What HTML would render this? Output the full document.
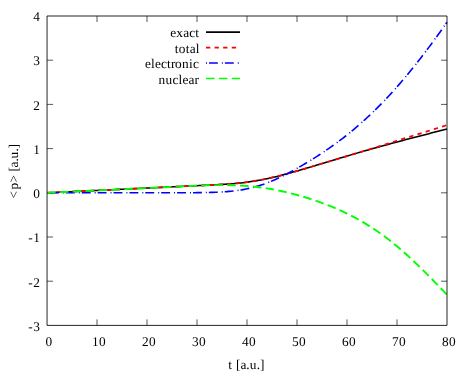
<!DOCTYPE html>
<html><head><meta charset="utf-8"><title>plot</title>
<style>
html,body{margin:0;padding:0;background:#fff;overflow:hidden;}
svg{display:block;will-change:transform;}
text{font-family:"Liberation Serif",serif;font-size:13.33px;fill:#000;text-rendering:geometricPrecision;}
</style></head><body>
<svg width="468" height="375" viewBox="0 0 468 375">
<rect width="468" height="375" fill="#fff"/>
<g fill="none" stroke="#000" stroke-opacity="0.65" stroke-width="1">
<path d="M97.00,325.4 V319.4"/>
<path d="M97.00,16.0 V22.0"/>
<path d="M147.00,325.4 V319.4"/>
<path d="M147.00,16.0 V22.0"/>
<path d="M197.00,325.4 V319.4"/>
<path d="M197.00,16.0 V22.0"/>
<path d="M247.00,325.4 V319.4"/>
<path d="M247.00,16.0 V22.0"/>
<path d="M297.00,325.4 V319.4"/>
<path d="M297.00,16.0 V22.0"/>
<path d="M347.00,325.4 V319.4"/>
<path d="M347.00,16.0 V22.0"/>
<path d="M397.00,325.4 V319.4"/>
<path d="M397.00,16.0 V22.0"/>
<path d="M47.05,281.20 H53.05"/>
<path d="M447.0,281.20 H441.0"/>
<path d="M47.05,237.00 H53.05"/>
<path d="M447.0,237.00 H441.0"/>
<path d="M47.05,192.80 H53.05"/>
<path d="M447.0,192.80 H441.0"/>
<path d="M47.05,148.60 H53.05"/>
<path d="M447.0,148.60 H441.0"/>
<path d="M47.05,104.40 H53.05"/>
<path d="M447.0,104.40 H441.0"/>
<path d="M47.05,60.20 H53.05"/>
<path d="M447.0,60.20 H441.0"/>
</g>
<g fill="none" stroke-width="1.6" stroke-linecap="butt" stroke-linejoin="round">
<path stroke="#000" stroke-width="1.55" d="M47.00,192.80 L49.00,192.71 L51.00,192.61 L53.00,192.52 L55.00,192.42 L57.00,192.33 L59.00,192.24 L61.00,192.14 L63.00,192.05 L65.00,191.95 L67.00,191.86 L69.00,191.76 L71.00,191.67 L73.00,191.58 L75.00,191.48 L77.00,191.39 L79.00,191.29 L81.00,191.20 L83.00,191.10 L85.00,191.01 L87.00,190.91 L89.00,190.82 L91.00,190.72 L93.00,190.63 L95.00,190.53 L97.00,190.44 L99.00,190.34 L101.00,190.25 L103.00,190.15 L105.00,190.06 L107.00,189.96 L109.00,189.87 L111.00,189.77 L113.00,189.68 L115.00,189.58 L117.00,189.49 L119.00,189.39 L121.00,189.30 L123.00,189.20 L125.00,189.10 L127.00,189.01 L129.00,188.91 L131.00,188.82 L133.00,188.72 L135.00,188.63 L137.00,188.53 L139.00,188.44 L141.00,188.34 L143.00,188.24 L145.00,188.15 L147.00,188.05 L149.00,187.96 L151.00,187.86 L153.00,187.77 L155.00,187.67 L157.00,187.58 L159.00,187.48 L161.00,187.38 L163.00,187.29 L165.00,187.19 L167.00,187.10 L169.00,187.00 L171.00,186.91 L173.00,186.81 L175.00,186.72 L177.00,186.62 L179.00,186.52 L181.00,186.43 L183.00,186.33 L185.00,186.24 L187.00,186.14 L189.00,186.05 L191.00,185.95 L193.00,185.86 L195.00,185.76 L197.00,185.67 L199.00,185.57 L201.00,185.48 L203.00,185.38 L205.00,185.29 L207.00,185.19 L209.00,185.09 L211.00,185.00 L213.00,184.90 L215.00,184.81 L217.00,184.71 L219.00,184.60 L221.00,184.49 L223.00,184.38 L225.00,184.26 L227.00,184.13 L229.00,183.99 L231.00,183.84 L233.00,183.68 L235.00,183.51 L237.00,183.33 L239.00,183.13 L241.00,182.91 L243.00,182.68 L245.00,182.43 L247.00,182.17 L249.00,181.89 L251.00,181.60 L253.00,181.29 L255.00,180.96 L257.00,180.62 L259.00,180.27 L261.00,179.90 L263.00,179.51 L265.00,179.11 L267.00,178.69 L269.00,178.26 L271.00,177.81 L273.00,177.35 L275.00,176.88 L277.00,176.39 L279.00,175.89 L281.00,175.38 L283.00,174.85 L285.00,174.32 L287.00,173.78 L289.00,173.23 L291.00,172.68 L293.00,172.12 L295.00,171.55 L297.00,170.97 L299.00,170.40 L301.00,169.82 L303.00,169.23 L305.00,168.64 L307.00,168.06 L309.00,167.46 L311.00,166.87 L313.00,166.28 L315.00,165.68 L317.00,165.08 L319.00,164.48 L321.00,163.88 L323.00,163.28 L325.00,162.68 L327.00,162.07 L329.00,161.47 L331.00,160.87 L333.00,160.26 L335.00,159.66 L337.00,159.06 L339.00,158.46 L341.00,157.86 L343.00,157.26 L345.00,156.66 L347.00,156.07 L349.00,155.47 L351.00,154.88 L353.00,154.29 L355.00,153.70 L357.00,153.12 L359.00,152.54 L361.00,151.96 L363.00,151.38 L365.00,150.81 L367.00,150.24 L369.00,149.67 L371.00,149.11 L373.00,148.55 L375.00,147.99 L377.00,147.43 L379.00,146.88 L381.00,146.33 L383.00,145.78 L385.00,145.23 L387.00,144.69 L389.00,144.15 L391.00,143.61 L393.00,143.07 L395.00,142.53 L397.00,142.00 L399.00,141.46 L401.00,140.93 L403.00,140.40 L405.00,139.87 L407.00,139.35 L409.00,138.82 L411.00,138.30 L413.00,137.78 L415.00,137.25 L417.00,136.73 L419.00,136.21 L421.00,135.70 L423.00,135.18 L425.00,134.66 L427.00,134.14 L429.00,133.63 L431.00,133.11 L433.00,132.60 L435.00,132.08 L437.00,131.57 L439.00,131.06 L441.00,130.54 L443.00,130.03 L445.00,129.51 L447.00,129.00"/>
<path stroke="#f00" stroke-width="1.75" stroke-dasharray="4.29 4.29" d="M47.00,192.80 L49.00,192.71 L51.00,192.61 L53.00,192.52 L55.00,192.42 L57.00,192.33 L59.00,192.24 L61.00,192.14 L63.00,192.05 L65.00,191.95 L67.00,191.86 L69.00,191.76 L71.00,191.67 L73.00,191.58 L75.00,191.48 L77.00,191.39 L79.00,191.29 L81.00,191.20 L83.00,191.10 L85.00,191.01 L87.00,190.91 L89.00,190.82 L91.00,190.72 L93.00,190.63 L95.00,190.53 L97.00,190.44 L99.00,190.34 L101.00,190.25 L103.00,190.15 L105.00,190.06 L107.00,189.96 L109.00,189.87 L111.00,189.77 L113.00,189.68 L115.00,189.58 L117.00,189.49 L119.00,189.39 L121.00,189.30 L123.00,189.20 L125.00,189.10 L127.00,189.01 L129.00,188.91 L131.00,188.82 L133.00,188.72 L135.00,188.63 L137.00,188.53 L139.00,188.44 L141.00,188.34 L143.00,188.24 L145.00,188.15 L147.00,188.05 L149.00,187.96 L151.00,187.86 L153.00,187.77 L155.00,187.67 L157.00,187.58 L159.00,187.48 L161.00,187.38 L163.00,187.29 L165.00,187.19 L167.00,187.10 L169.00,187.00 L171.00,186.91 L173.00,186.81 L175.00,186.72 L177.00,186.62 L179.00,186.52 L181.00,186.43 L183.00,186.33 L185.00,186.24 L187.00,186.14 L189.00,186.05 L191.00,185.95 L193.00,185.86 L195.00,185.76 L197.00,185.67 L199.00,185.57 L201.00,185.48 L203.00,185.38 L205.00,185.29 L207.00,185.19 L209.00,185.09 L211.00,185.00 L213.00,184.90 L215.00,184.81 L217.00,184.71 L219.00,184.60 L221.00,184.49 L223.00,184.38 L225.00,184.26 L227.00,184.13 L229.00,183.99 L231.00,183.84 L233.00,183.68 L235.00,183.51 L237.00,183.33 L239.00,183.13 L241.00,182.91 L243.00,182.68 L245.00,182.43 L247.00,182.17 L249.00,181.89 L251.00,181.60 L253.00,181.29 L255.00,180.96 L257.00,180.62 L259.00,180.27 L261.00,179.90 L263.00,179.51 L265.00,179.11 L267.00,178.69 L269.00,178.26 L271.00,177.81 L273.00,177.35 L275.00,176.88 L277.00,176.39 L279.00,175.89 L281.00,175.38 L283.00,174.85 L285.00,174.32 L287.00,173.78 L289.00,173.23 L291.00,172.68 L293.00,172.12 L295.00,171.55 L297.00,170.97 L299.00,170.40 L301.00,169.82 L303.00,169.23 L305.00,168.64 L307.00,168.06 L309.00,167.46 L311.00,166.87 L313.00,166.28 L315.00,165.68 L317.00,165.08 L319.00,164.48 L321.00,163.88 L323.00,163.28 L325.00,162.68 L327.00,162.07 L329.00,161.47 L331.00,160.87 L333.00,160.26 L335.00,159.66 L337.00,159.06 L339.00,158.46 L341.00,157.86 L343.00,157.26 L345.00,156.66 L347.00,156.05 L349.00,155.45 L351.00,154.85 L353.00,154.25 L355.00,153.65 L357.00,153.06 L359.00,152.46 L361.00,151.87 L363.00,151.27 L365.00,150.68 L367.00,150.08 L369.00,149.48 L371.00,148.88 L373.00,148.28 L375.00,147.68 L377.00,147.07 L379.00,146.46 L381.00,145.84 L383.00,145.22 L385.00,144.58 L387.00,143.94 L389.00,143.30 L391.00,142.65 L393.00,142.01 L395.00,141.36 L397.00,140.71 L399.00,140.06 L401.00,139.43 L403.00,138.81 L405.00,138.19 L407.00,137.58 L409.00,136.97 L411.00,136.35 L413.00,135.74 L415.00,135.13 L417.00,134.52 L419.00,133.91 L421.00,133.30 L423.00,132.68 L425.00,132.05 L427.00,131.42 L429.00,130.79 L431.00,130.15 L433.00,129.52 L435.00,128.88 L437.00,128.25 L439.00,127.62 L441.00,126.99 L443.00,126.36 L445.00,125.73 L447.00,125.10"/>
<path stroke="#00f" stroke-dasharray="1 2 8.885 4" d="M47.00,192.80 L49.00,192.80 L51.00,192.80 L53.00,192.80 L55.00,192.80 L57.00,192.80 L59.00,192.80 L61.00,192.80 L63.00,192.80 L65.00,192.80 L67.00,192.80 L69.00,192.80 L71.00,192.80 L73.00,192.80 L75.00,192.80 L77.00,192.80 L79.00,192.80 L81.00,192.80 L83.00,192.80 L85.00,192.80 L87.00,192.80 L89.00,192.80 L91.00,192.80 L93.00,192.80 L95.00,192.80 L97.00,192.80 L99.00,192.80 L101.00,192.80 L103.00,192.80 L105.00,192.80 L107.00,192.80 L109.00,192.80 L111.00,192.80 L113.00,192.80 L115.00,192.80 L117.00,192.80 L119.00,192.80 L121.00,192.80 L123.00,192.80 L125.00,192.80 L127.00,192.80 L129.00,192.80 L131.00,192.80 L133.00,192.80 L135.00,192.80 L137.00,192.80 L139.00,192.80 L141.00,192.80 L143.00,192.80 L145.00,192.80 L147.00,192.80 L149.00,192.80 L151.00,192.80 L153.00,192.80 L155.00,192.80 L157.00,192.80 L159.00,192.80 L161.00,192.80 L163.00,192.80 L165.00,192.80 L167.00,192.80 L169.00,192.80 L171.00,192.80 L173.00,192.80 L175.00,192.80 L177.00,192.79 L179.00,192.79 L181.00,192.78 L183.00,192.77 L185.00,192.76 L187.00,192.75 L189.00,192.74 L191.00,192.72 L193.00,192.70 L195.00,192.68 L197.00,192.66 L199.00,192.64 L201.00,192.61 L203.00,192.58 L205.00,192.55 L207.00,192.51 L209.00,192.46 L211.00,192.41 L213.00,192.34 L215.00,192.27 L217.00,192.19 L219.00,192.09 L221.00,191.99 L223.00,191.87 L225.00,191.73 L227.00,191.58 L229.00,191.41 L231.00,191.22 L233.00,191.02 L235.00,190.78 L237.00,190.53 L239.00,190.24 L241.00,189.93 L243.00,189.59 L245.00,189.22 L247.00,188.82 L249.00,188.38 L251.00,187.91 L253.00,187.41 L255.00,186.88 L257.00,186.31 L259.00,185.71 L261.00,185.07 L263.00,184.40 L265.00,183.70 L267.00,182.96 L269.00,182.19 L271.00,181.38 L273.00,180.54 L275.00,179.67 L277.00,178.77 L279.00,177.83 L281.00,176.87 L283.00,175.89 L285.00,174.88 L287.00,173.84 L289.00,172.79 L291.00,171.71 L293.00,170.61 L295.00,169.50 L297.00,168.37 L299.00,167.23 L301.00,166.07 L303.00,164.90 L305.00,163.72 L307.00,162.52 L309.00,161.31 L311.00,160.08 L313.00,158.84 L315.00,157.59 L317.00,156.31 L319.00,155.02 L321.00,153.72 L323.00,152.39 L325.00,151.05 L327.00,149.69 L329.00,148.31 L331.00,146.91 L333.00,145.48 L335.00,144.04 L337.00,142.58 L339.00,141.09 L341.00,139.59 L343.00,138.06 L345.00,136.50 L347.00,134.92 L349.00,133.32 L351.00,131.70 L353.00,130.04 L355.00,128.37 L357.00,126.66 L359.00,124.93 L361.00,123.18 L363.00,121.40 L365.00,119.59 L367.00,117.76 L369.00,115.89 L371.00,114.01 L373.00,112.09 L375.00,110.15 L377.00,108.18 L379.00,106.18 L381.00,104.16 L383.00,102.11 L385.00,100.02 L387.00,97.91 L389.00,95.78 L391.00,93.61 L393.00,91.41 L395.00,89.19 L397.00,86.93 L399.00,84.65 L401.00,82.34 L403.00,79.99 L405.00,77.62 L407.00,75.22 L409.00,72.79 L411.00,70.34 L413.00,67.85 L415.00,65.35 L417.00,62.81 L419.00,60.26 L421.00,57.67 L423.00,55.07 L425.00,52.44 L427.00,49.79 L429.00,47.12 L431.00,44.43 L433.00,41.71 L435.00,38.98 L437.00,36.23 L439.00,33.46 L441.00,30.67 L443.00,27.86 L445.00,25.04 L447.00,22.20"/>
<path stroke="#0f0" stroke-width="1.9" stroke-dasharray="8.587 4.293" d="M47.00,192.80 L49.00,192.71 L51.00,192.61 L53.00,192.52 L55.00,192.42 L57.00,192.33 L59.00,192.24 L61.00,192.14 L63.00,192.05 L65.00,191.95 L67.00,191.86 L69.00,191.76 L71.00,191.67 L73.00,191.58 L75.00,191.48 L77.00,191.39 L79.00,191.29 L81.00,191.20 L83.00,191.10 L85.00,191.01 L87.00,190.91 L89.00,190.82 L91.00,190.72 L93.00,190.63 L95.00,190.53 L97.00,190.44 L99.00,190.34 L101.00,190.25 L103.00,190.15 L105.00,190.06 L107.00,189.96 L109.00,189.87 L111.00,189.77 L113.00,189.68 L115.00,189.58 L117.00,189.49 L119.00,189.39 L121.00,189.30 L123.00,189.20 L125.00,189.10 L127.00,189.01 L129.00,188.91 L131.00,188.82 L133.00,188.72 L135.00,188.63 L137.00,188.53 L139.00,188.44 L141.00,188.34 L143.00,188.24 L145.00,188.15 L147.00,188.05 L149.00,187.96 L151.00,187.86 L153.00,187.77 L155.00,187.67 L157.00,187.58 L159.00,187.48 L161.00,187.38 L163.00,187.29 L165.00,187.19 L167.00,187.10 L169.00,187.00 L171.00,186.91 L173.00,186.81 L175.00,186.72 L177.00,186.62 L179.00,186.52 L181.00,186.43 L183.00,186.33 L185.00,186.24 L187.00,186.14 L189.00,186.05 L191.00,185.96 L193.00,185.87 L195.00,185.78 L197.00,185.69 L199.00,185.61 L201.00,185.54 L203.00,185.47 L205.00,185.40 L207.00,185.34 L209.00,185.28 L211.00,185.23 L213.00,185.18 L215.00,185.15 L217.00,185.13 L219.00,185.11 L221.00,185.11 L223.00,185.12 L225.00,185.14 L227.00,185.16 L229.00,185.20 L231.00,185.26 L233.00,185.32 L235.00,185.39 L237.00,185.47 L239.00,185.57 L241.00,185.67 L243.00,185.79 L245.00,185.92 L247.00,186.06 L249.00,186.22 L251.00,186.39 L253.00,186.58 L255.00,186.78 L257.00,187.00 L259.00,187.23 L261.00,187.49 L263.00,187.76 L265.00,188.05 L267.00,188.36 L269.00,188.69 L271.00,189.03 L273.00,189.40 L275.00,189.78 L277.00,190.18 L279.00,190.60 L281.00,191.03 L283.00,191.47 L285.00,191.93 L287.00,192.41 L289.00,192.89 L291.00,193.39 L293.00,193.90 L295.00,194.43 L297.00,194.97 L299.00,195.52 L301.00,196.08 L303.00,196.66 L305.00,197.25 L307.00,197.86 L309.00,198.48 L311.00,199.11 L313.00,199.77 L315.00,200.43 L317.00,201.12 L319.00,201.82 L321.00,202.54 L323.00,203.27 L325.00,204.03 L327.00,204.80 L329.00,205.58 L331.00,206.39 L333.00,207.22 L335.00,208.06 L337.00,208.93 L339.00,209.81 L341.00,210.72 L343.00,211.65 L345.00,212.60 L347.00,213.57 L349.00,214.56 L351.00,215.58 L353.00,216.62 L355.00,217.68 L357.00,218.77 L359.00,219.88 L361.00,221.02 L363.00,222.18 L365.00,223.37 L367.00,224.59 L369.00,225.83 L371.00,227.10 L373.00,228.40 L375.00,229.73 L377.00,231.08 L379.00,232.47 L381.00,233.88 L383.00,235.32 L385.00,236.80 L387.00,238.31 L389.00,239.84 L391.00,241.41 L393.00,243.01 L395.00,244.64 L397.00,246.31 L399.00,248.00 L401.00,249.71 L403.00,251.46 L405.00,253.23 L407.00,255.03 L409.00,256.85 L411.00,258.69 L413.00,260.56 L415.00,262.45 L417.00,264.35 L419.00,266.28 L421.00,268.23 L423.00,270.19 L425.00,272.17 L427.00,274.17 L429.00,276.18 L431.00,278.21 L433.00,280.25 L435.00,282.30 L437.00,284.36 L439.00,286.43 L441.00,288.51 L443.00,290.60 L445.00,292.70 L447.00,294.80"/>
<path stroke="#000" d="M206,32.1 H240"/>
<path stroke="#f00" stroke-dasharray="4.29 4.29" d="M206,47.65 H240"/>
<path stroke="#00f" stroke-dasharray="1 2 8.885 4" d="M206,63.0 H240"/>
<path stroke="#0f0" stroke-dasharray="8.587 4.293" d="M206,78.45 H240"/>
</g>
<g fill="none" stroke="#000" stroke-opacity="0.85" stroke-width="1">
<path d="M47.05,16.0 H447.0 V325.4 H47.05 Z"/>
</g>
<g>
<text x="45.50" y="346" >0</text>
<text x="92.00 99.00" y="346" >10</text>
<text x="142.00 149.00" y="346" >20</text>
<text x="192.00 199.00" y="346" >30</text>
<text x="242.00 249.00" y="346" >40</text>
<text x="292.00 299.00" y="346" >50</text>
<text x="342.00 349.00" y="346" >60</text>
<text x="392.00 399.00" y="346" >70</text>
<text x="442.00 449.00" y="346" >80</text>
<text x="28.30 33.30" y="331" >-3</text>
<text x="28.30 33.30" y="286.5" >-2</text>
<text x="28.30 33.30" y="242" >-1</text>
<text x="33.30" y="198" >0</text>
<text x="33.30" y="153.7" >1</text>
<text x="33.30" y="110" >2</text>
<text x="33.30" y="65" >3</text>
<text x="33.30" y="21" >4</text>
<text x="170.30 176.30 183.30 189.30 195.30" y="37" >exact</text>
<text x="174.70 178.70 185.70 189.70 195.70" y="52.5" >total</text>
<text x="145.00 151.00 155.00 161.00 167.00 171.00 175.00 182.00 189.00 193.00" y="68" >electronic</text>
<text x="158.40 165.40 172.40 178.40 182.40 188.40 194.40" y="83.5" >nuclear</text>
<text x="228.32 232.62 235.96 240.39 246.31 249.65 256.71 260.04" y="369" >t [a.u.]</text>
<g transform="translate(18,171.5) rotate(-90)"><text x="-27.00 -18.00 -11.00 -3.00 0.00 4.00 10.00 13.00 20.00 23.00" y="0" >&lt;p&gt; [a.u.]</text></g>
</g>
</svg>
</body></html>
